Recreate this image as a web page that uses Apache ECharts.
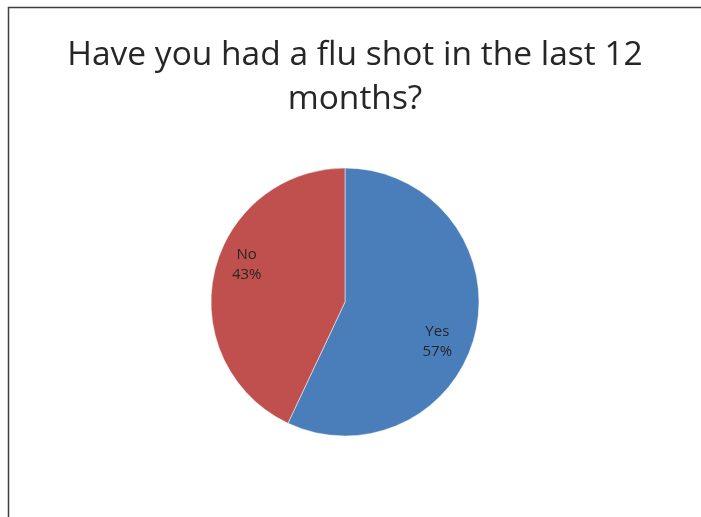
<!DOCTYPE html>
<html>
<head>
<meta charset="utf-8">
<script src="https://cdn.jsdelivr.net/npm/echarts@6/dist/echarts.min.js"></script>
<style>
  html, body { margin: 0; padding: 0; background: #fff; }
  #main { width: 701px; height: 517px; }
</style>
</head>
<body>
<div id="main"></div>
<script>
// survey answers
var answers = ['Yes', 'No'];
var shares = [57, 43];
var sliceColors = ['#4A7EBB', '#C0504D'];

var titleText = 'Have you had a flu shot in the last 12\nmonths?';

// nudge labels to where the original sheet put them
var labelShift = [[24, 24], [-30, -22]];

var myChart = echarts.init(document.getElementById('main'));

var option = {
    backgroundColor: '#ffffff',
    animation: false,
    title: {
        text: titleText,
        left: 355,
        top: 33,
        padding: 0,
        textAlign: 'center',
        textStyle: {
            fontFamily: 'Open Sans',
            fontSize: 33.5,
            fontWeight: 'normal',
            color: '#262626',
            lineHeight: 44
        }
    },
    graphic: [
        {
            type: 'rect',
            silent: true,
            shape: { x: 8.5, y: 7.5, width: 800, height: 600 },
            style: { fill: 'none', stroke: '#3f3f3f', lineWidth: 1.5 }
        }
    ],
    series: [
        {
            type: 'pie',
            center: [345, 302],
            radius: 134,
            startAngle: 90,
            clockwise: true,
            color: sliceColors,
            itemStyle: { borderColor: '#ffffff', borderWidth: 0.5 },
            label: {
                show: true,
                position: 'inside',
                formatter: '{b}\n{d}%',
                fontFamily: 'Open Sans',
                fontSize: 15,
                lineHeight: 20,
                color: '#262626'
            },
            labelLine: { show: false },
            labelLayout: function (params) {
                var s = labelShift[params.dataIndex];
                return { dx: s[0], dy: s[1] };
            },
            emphasis: { disabled: true },
            data: answers.map(function (name, i) {
                return { name: name, value: shares[i] };
            })
        }
    ]
};

option && myChart.setOption(option);
</script>
</body>
</html>
